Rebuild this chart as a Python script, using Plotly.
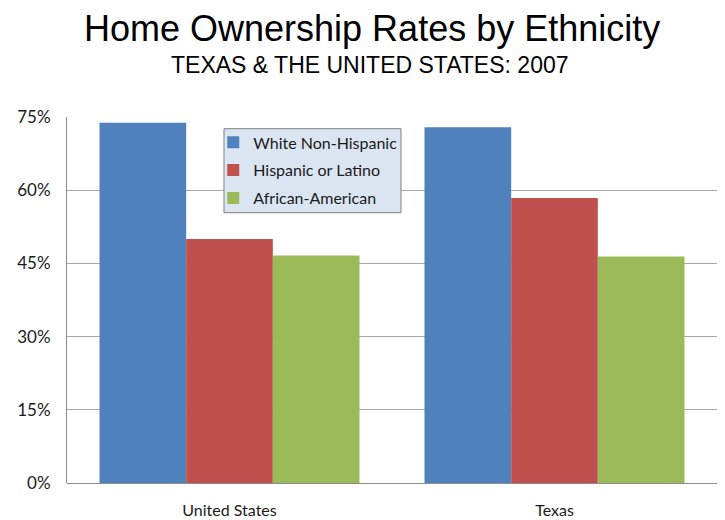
import plotly.graph_objects as go

# Home ownership rates (%) in 2007
regions = ["United States", "Texas"]
white_non_hispanic = [73.8, 72.9]
hispanic_or_latino = [50.0, 58.4]
african_american = [46.6, 46.4]

series = [
    ("White Non-Hispanic", white_non_hispanic, "#4f81bd"),
    ("Hispanic or Latino", hispanic_or_latino, "#c0504d"),
    ("African-American", african_american, "#9bbb59"),
]

y_ticks = [0, 15, 30, 45, 60, 75]
y_tick_labels = ["0%", "15%", "30%", "45%", "60%", "75%"]

fig = go.Figure()
for i, (name, vals, color) in enumerate(series):
    fig.add_trace(go.Bar(
        name=name,
        x=regions,
        y=vals,
        marker=dict(color=color, line=dict(width=0)),
        legendgroup=f"g{i}",
    ))

label_font = "Lato, sans-serif"
title_font = "Liberation Sans, Arial, sans-serif"

fig.update_layout(
    width=725,
    height=520,
    margin=dict(l=67, r=8, t=117, b=37, autoexpand=False),
    paper_bgcolor="white",
    plot_bgcolor="white",
    barmode="group",
    bargap=0.2,
    bargroupgap=0,
    showlegend=True,
    legend=dict(
        x=0.2250, y=0.977, xanchor="left", yanchor="top",
        bgcolor="rgba(0,0,0,0)",
        borderwidth=0,
        font=dict(family=label_font, size=16, color="#1a1a1a"),
        tracegroupgap=4,
    ),
    # legend panel
    shapes=[
        dict(type="rect", xref="paper", yref="paper",
             x0=0.2415, x1=0.5138, y0=0.7385, y1=0.968,
             fillcolor="#dbe5f1", line=dict(color="#7f7f7f", width=1),
             layer="above"),
    ],
    xaxis=dict(
        showgrid=False,
        showline=False,
        ticks="",
        automargin=False,
        tickfont=dict(family=label_font, size=16, color="#1a1a1a"),
        ticklabelstandoff=16,
    ),
    yaxis=dict(
        range=[0, 75],
        tickvals=y_ticks,
        ticktext=y_tick_labels,
        automargin=False,
        showgrid=True,
        gridcolor="#a6a6a6",
        gridwidth=1,
        showline=True,
        linecolor="#8c8c8c",
        linewidth=1,
        zeroline=True,
        zerolinecolor="#8c8c8c",
        zerolinewidth=1,
        ticks="",
        tickfont=dict(family=label_font, size=17, color="#1a1a1a"),
        ticklabelstandoff=12,
    ),
    annotations=[
        dict(text="Home Ownership Rates by Ethnicity", xref="paper", yref="paper",
             x=0.4685, y=1, yshift=89, xanchor="center", yanchor="middle", showarrow=False,
             font=dict(family=title_font, size=36, color="black")),
        dict(text="TEXAS &amp; THE UNITED STATES: 2007", xref="paper", yref="paper",
             x=0.4655, y=1, yshift=52, xanchor="center", yanchor="middle", showarrow=False,
             font=dict(family=title_font, size=23, color="black")),
    ],
)

fig.write_html("out.html")
